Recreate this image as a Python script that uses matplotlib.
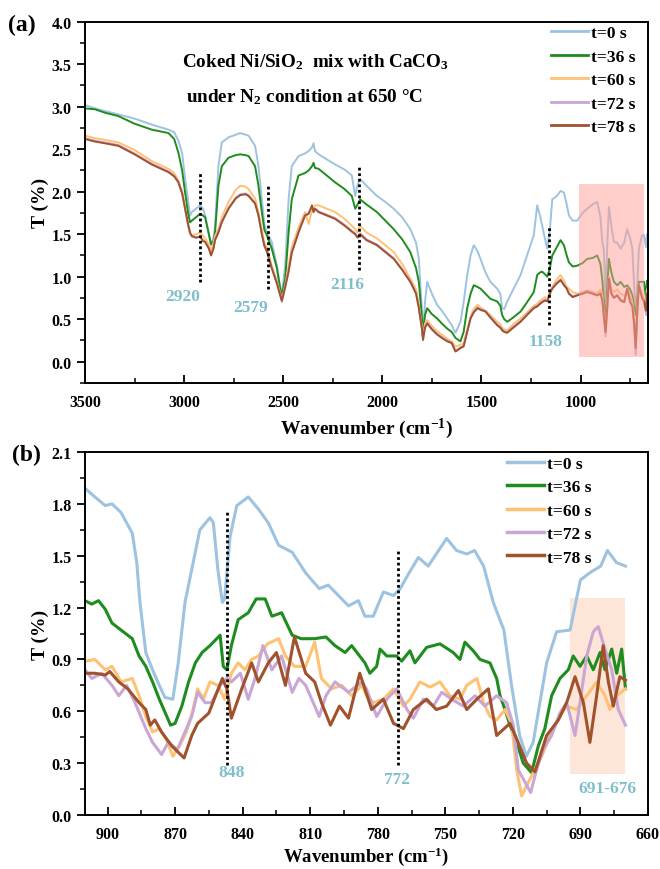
import matplotlib
matplotlib.use("Agg")
import matplotlib.pyplot as plt
from matplotlib.ticker import MultipleLocator, FormatStrFormatter
from matplotlib.patches import Rectangle

plt.rcParams['font.family'] = ['Liberation Serif', 'DejaVu Serif']
plt.rcParams['font.weight'] = 'bold'
plt.rcParams['mathtext.fontset'] = 'custom'
plt.rcParams['mathtext.rm'] = 'Liberation Serif:bold'
plt.rcParams['mathtext.it'] = 'Liberation Serif:bold:italic'
plt.rcParams['mathtext.bf'] = 'Liberation Serif:bold'

labels = ["t=0 s", "t=36 s", "t=60 s", "t=72 s", "t=78 s"]
colors = ["#9DC3E0", "#1E8C1E", "#FFC173", "#C9A6D6", "#A0522D"]

# ---------------- panel (a) data ----------------
wn_a = [3500, 3450, 3400, 3332, 3250, 3163, 3079, 3050, 3029, 3010, 2995, 2980, 2970, 2961, 2940,
        2919, 2905, 2894, 2875, 2864, 2852, 2844, 2827, 2810, 2776, 2740, 2717, 2690, 2675, 2642,
        2625, 2608, 2595, 2583, 2558, 2532, 2515, 2507, 2490, 2473, 2457, 2423, 2390, 2372, 2355,
        2347, 2340, 2322, 2280, 2238, 2190, 2154, 2137, 2125, 2112, 2080, 2027, 1985, 1943, 1900,
        1859, 1830, 1816, 1800, 1795, 1785, 1774, 1750, 1724, 1700, 1673, 1650, 1631, 1606, 1590,
        1572, 1555, 1539, 1520, 1505, 1480, 1455, 1421, 1405, 1396, 1385, 1370, 1340, 1303, 1270,
        1236, 1219, 1205, 1194, 1180, 1168, 1155, 1143, 1120, 1101, 1084, 1070, 1059, 1040, 1017,
        990, 967, 940, 916, 900, 890, 883, 874, 865, 857, 845, 832, 815, 798, 780,
        765, 750, 739, 730, 722, 715, 706, 690, 680, 670, 665]

t0_a = [3.02, 2.98, 2.95, 2.91, 2.86, 2.79, 2.73, 2.70, 2.60, 2.45, 2.15, 1.90, 1.72, 1.76, 1.80,
        1.84, 1.80, 1.72, 1.50, 1.38, 1.45, 1.60, 2.30, 2.58, 2.64, 2.67, 2.69, 2.67, 2.66, 2.54,
        2.30, 1.91, 1.62, 1.52, 1.41, 1.13, 0.88, 0.80, 1.13, 1.91, 2.30, 2.42, 2.45, 2.48, 2.52,
        2.57, 2.48, 2.44, 2.38, 2.32, 2.26, 2.19, 1.95, 2.08, 2.15, 2.07, 1.95, 1.88, 1.80, 1.70,
        1.56, 1.40, 1.21, 0.60, 0.32, 0.70, 0.94, 0.80, 0.67, 0.60, 0.51, 0.43, 0.34, 0.47, 0.70,
        1.02, 1.25, 1.37, 1.30, 1.21, 1.05, 0.94, 0.86, 0.80, 0.63, 0.62, 0.71, 0.85, 1.02, 1.25,
        1.49, 1.84, 1.72, 1.60, 1.45, 1.33, 1.55, 1.91, 1.95, 2.01, 1.99, 1.85, 1.72, 1.66, 1.66,
        1.75, 1.80, 1.85, 1.88, 1.70, 1.40, 1.33, 0.71, 1.40, 1.82, 1.60, 1.41, 1.40, 1.33, 1.40,
        1.56, 1.45, 1.33, 0.90, 0.55, 0.85, 1.33, 1.49, 1.49, 1.35, 1.50]

t36_a = [2.98, 2.97, 2.93, 2.89, 2.80, 2.73, 2.69, 2.62, 2.46, 2.25, 1.99, 1.75, 1.64, 1.66, 1.70,
         1.74, 1.72, 1.70, 1.50, 1.38, 1.42, 1.52, 2.07, 2.30, 2.40, 2.43, 2.44, 2.43, 2.42, 2.30,
         2.07, 1.76, 1.55, 1.49, 1.33, 1.10, 0.85, 0.78, 0.98, 1.52, 1.91, 2.19, 2.22, 2.25, 2.30,
         2.34, 2.28, 2.27, 2.19, 2.11, 2.03, 1.95, 1.80, 1.85, 1.91, 1.85, 1.76, 1.66, 1.56, 1.44,
         1.29, 1.10, 0.94, 0.50, 0.32, 0.55, 0.63, 0.56, 0.51, 0.45, 0.39, 0.35, 0.28, 0.24, 0.35,
         0.63, 0.80, 0.90, 0.88, 0.86, 0.80, 0.74, 0.71, 0.66, 0.55, 0.50, 0.47, 0.52, 0.59, 0.70,
         0.82, 1.02, 1.05, 1.06, 1.03, 1.00, 1.10, 1.25, 1.35, 1.43, 1.37, 1.25, 1.17, 1.12, 1.13,
         1.16, 1.21, 1.22, 1.25, 1.15, 0.95, 0.74, 0.47, 0.90, 1.21, 1.05, 0.94, 0.90, 0.94, 0.88,
         0.90, 0.85, 0.78, 0.65, 0.55, 0.70, 0.94, 0.94, 0.94, 0.75, 0.95]

t60_a = [2.66, 2.63, 2.61, 2.58, 2.49, 2.36, 2.27, 2.22, 2.13, 2.00, 1.80, 1.60, 1.50, 1.48, 1.50,
         1.52, 1.48, 1.45, 1.38, 1.31, 1.40, 1.48, 1.56, 1.70, 1.88, 2.02, 2.07, 2.06, 2.03, 1.92,
         1.76, 1.55, 1.40, 1.35, 1.13, 0.95, 0.80, 0.74, 0.90, 1.13, 1.35, 1.58, 1.76, 1.62, 1.78,
         1.80, 1.84, 1.84, 1.80, 1.76, 1.68, 1.60, 1.56, 1.52, 1.60, 1.52, 1.45, 1.37, 1.29, 1.15,
         0.98, 0.85, 0.67, 0.40, 0.28, 0.45, 0.49, 0.42, 0.36, 0.32, 0.27, 0.24, 0.18, 0.20, 0.22,
         0.38, 0.53, 0.62, 0.67, 0.64, 0.60, 0.55, 0.47, 0.44, 0.40, 0.38, 0.37, 0.44, 0.51, 0.58,
         0.66, 0.68, 0.72, 0.73, 0.76, 0.74, 0.82, 0.88, 0.97, 1.02, 0.95, 0.88, 0.86, 0.82, 0.80,
         0.82, 0.84, 0.82, 0.80, 0.85, 0.78, 0.60, 0.35, 0.70, 1.00, 0.85, 0.82, 0.85, 0.80, 0.78,
         0.82, 0.80, 0.70, 0.55, 0.20, 0.60, 0.88, 0.80, 0.75, 0.72, 0.85]

t72_a = [2.63, 2.60, 2.58, 2.55, 2.45, 2.33, 2.24, 2.19, 2.12, 1.99, 1.80, 1.61, 1.51, 1.47, 1.46,
         1.47, 1.43, 1.41, 1.34, 1.26, 1.34, 1.44, 1.53, 1.65, 1.81, 1.93, 1.97, 1.98, 1.96, 1.87,
         1.73, 1.51, 1.37, 1.31, 1.11, 0.93, 0.77, 0.70, 0.88, 1.07, 1.29, 1.53, 1.73, 1.75, 1.82,
         1.77, 1.80, 1.77, 1.73, 1.69, 1.61, 1.54, 1.51, 1.47, 1.51, 1.44, 1.38, 1.30, 1.22, 1.09,
         0.95, 0.81, 0.64, 0.38, 0.25, 0.41, 0.46, 0.39, 0.33, 0.29, 0.25, 0.22, 0.13, 0.17, 0.19,
         0.36, 0.52, 0.59, 0.64, 0.62, 0.60, 0.53, 0.44, 0.41, 0.38, 0.36, 0.35, 0.41, 0.48, 0.56,
         0.64, 0.66, 0.69, 0.71, 0.73, 0.72, 0.81, 0.87, 0.93, 0.97, 0.91, 0.87, 0.81, 0.77, 0.79,
         0.81, 0.83, 0.81, 0.79, 0.81, 0.73, 0.52, 0.30, 0.66, 0.99, 0.81, 0.76, 0.79, 0.73, 0.71,
         0.87, 0.71, 0.66, 0.43, 0.08, 0.52, 0.91, 0.76, 0.72, 0.55, 0.78]

t78_a = [2.62, 2.59, 2.57, 2.54, 2.44, 2.32, 2.23, 2.18, 2.11, 1.98, 1.80, 1.62, 1.52, 1.48, 1.46,
         1.47, 1.42, 1.41, 1.33, 1.25, 1.33, 1.43, 1.52, 1.64, 1.80, 1.92, 1.96, 1.97, 1.95, 1.86,
         1.72, 1.50, 1.36, 1.30, 1.10, 0.92, 0.78, 0.72, 0.88, 1.06, 1.28, 1.52, 1.72, 1.74, 1.84,
         1.76, 1.80, 1.76, 1.72, 1.68, 1.60, 1.53, 1.50, 1.46, 1.50, 1.43, 1.37, 1.29, 1.21, 1.08,
         0.94, 0.80, 0.63, 0.38, 0.26, 0.40, 0.45, 0.38, 0.32, 0.28, 0.24, 0.22, 0.12, 0.16, 0.18,
         0.35, 0.51, 0.58, 0.63, 0.61, 0.59, 0.52, 0.43, 0.40, 0.37, 0.35, 0.34, 0.40, 0.47, 0.55,
         0.63, 0.65, 0.68, 0.70, 0.72, 0.71, 0.80, 0.86, 0.92, 0.96, 0.90, 0.86, 0.80, 0.76, 0.78,
         0.80, 0.82, 0.80, 0.78, 0.80, 0.72, 0.55, 0.35, 0.65, 0.98, 0.80, 0.75, 0.78, 0.72, 0.70,
         0.86, 0.70, 0.65, 0.45, 0.16, 0.55, 0.90, 0.75, 0.71, 0.60, 0.80]

# ---------------- panel (b) data ----------------
wn_b0 = [910, 905.6, 901, 898, 894, 889, 887, 885.6, 883, 880, 877, 874.5, 871, 868.6, 865.6, 862.6,
         859, 854.5, 853, 851, 849, 848, 845.6, 842.6, 837.5, 833, 828.6, 824, 818, 812, 806, 802,
         797.5, 793, 788.6, 785.7, 782, 777.5, 773, 770, 767, 762, 757.6, 749.4, 745, 740.5, 737,
         733, 728.7, 724, 720.6, 717, 714, 711, 708, 705, 700.6, 694.6, 690, 686, 681, 678, 674, 670]
t0_b = [1.89, 1.84, 1.79, 1.80, 1.75, 1.63, 1.46, 1.23, 0.94, 0.84, 0.75, 0.68, 0.67, 0.88, 1.23, 1.42,
        1.65, 1.72, 1.69, 1.42, 1.23, 1.25, 1.61, 1.79, 1.84, 1.77, 1.69, 1.56, 1.52, 1.40, 1.31, 1.33,
        1.27, 1.21, 1.24, 1.15, 1.15, 1.29, 1.27, 1.31, 1.38, 1.49, 1.44, 1.60, 1.53, 1.51, 1.53,
        1.44, 1.23, 1.07, 0.75, 0.46, 0.34, 0.42, 0.65, 0.88, 1.06, 1.07, 1.36, 1.40, 1.44, 1.53, 1.46, 1.44]

wn_b36 = [910, 907, 904, 901, 898, 894, 889, 886, 883, 880, 877, 875, 872, 870, 867, 864, 861, 858,
          854.5, 850, 848.6, 847, 845, 842, 837.5, 834, 830, 827, 822.7, 818, 814, 808, 803, 799,
          794.5, 791.6, 785.7, 783.5, 780.5, 779, 776, 771.6, 769.4, 765.7, 763.5, 758.3, 752.4,
          746.5, 743.5, 741.3, 737.6, 734.6, 730.2, 727.2, 725.7, 723.5, 721.3, 718.3, 715.4, 711.7,
          708.7, 705.8, 702.8, 699.1, 695.4, 693.2, 690.2, 687.2, 684.3, 681.3, 679.1, 676.1, 673.9,
          671.7, 670]
t36_b = [1.24, 1.22, 1.24, 1.19, 1.11, 1.07, 1.02, 0.92, 0.86, 0.77, 0.67, 0.61, 0.52, 0.53, 0.63,
         0.77, 0.88, 0.94, 0.98, 1.04, 0.86, 0.84, 0.98, 1.13, 1.17, 1.25, 1.25, 1.15, 1.17, 1.04,
         1.02, 1.02, 1.03, 0.98, 0.94, 0.98, 0.88, 0.82, 0.86, 0.96, 0.92, 0.92, 0.89, 0.95, 0.88,
         0.97, 0.99, 0.94, 0.90, 1.00, 0.95, 0.90, 0.88, 0.79, 0.69, 0.61, 0.52, 0.42, 0.30, 0.245,
         0.40, 0.50, 0.69, 0.79, 0.84, 0.92, 0.86, 0.92, 0.84, 0.94, 0.84, 0.96, 0.82, 0.96, 0.73]

wn_b60 = [910, 905.6, 901, 898, 894, 889, 886, 883, 880, 877, 874, 871, 868, 865, 862, 860, 857.5,
          854.5, 851, 848, 845, 842, 839, 836, 833, 829, 824, 821, 817, 812, 808, 805, 800.5, 796,
          791.6, 787, 785, 782, 777.5, 773, 768.6, 765.7, 761.3, 756.8, 752.4, 748, 743.5, 740.5,
          736, 733, 730.2, 727.2, 723.5, 720.6, 718.3, 716.1, 713.9, 710.9, 707.2, 703.5, 699.1,
          696.1, 691.7, 687.2, 682.8, 679.1, 676.9, 673.9, 670]
t60_b = [0.89, 0.90, 0.84, 0.86, 0.77, 0.79, 0.69, 0.57, 0.48, 0.50, 0.44, 0.34, 0.40, 0.48, 0.61,
         0.73, 0.67, 0.77, 0.75, 0.67, 0.82, 0.88, 0.84, 0.90, 0.92, 0.99, 1.02, 0.92, 0.86, 0.86,
         1.00, 0.79, 0.73, 0.75, 0.69, 0.75, 0.69, 0.65, 0.67, 0.73, 0.63, 0.67, 0.77, 0.74, 0.77,
         0.69, 0.67, 0.75, 0.79, 0.65, 0.57, 0.55, 0.61, 0.53, 0.26, 0.11, 0.17, 0.245, 0.34, 0.46,
         0.57, 0.63, 0.61, 0.69, 0.77, 0.69, 0.61, 0.69, 0.73]

wn_b72 = [910, 907, 902.6, 898, 895, 891.5, 887.8, 883, 880, 876, 873, 869, 865.6, 862.6, 860,
          856.7, 853.8, 850, 847, 845, 841, 837.5, 834.5, 831, 827, 822.7, 818, 815, 812, 806, 803,
          799, 793, 787, 785, 780.5, 776, 771.6, 767, 764.2, 759.8, 755.3, 751.6, 747.2, 742,
          736.8, 732.4, 727.2, 722.8, 719.8, 717.6, 714.6, 712.1, 709.5, 706.5, 702.8, 699.1, 696.1,
          692.4, 690.2, 687.2, 684.3, 682.1, 679.1, 676.1, 673.2, 670]
t72_b = [0.84, 0.79, 0.82, 0.75, 0.69, 0.75, 0.65, 0.50, 0.42, 0.35, 0.42, 0.38, 0.48, 0.57, 0.71,
         0.65, 0.65, 0.75, 0.79, 0.77, 0.82, 0.67, 0.79, 0.98, 0.84, 0.92, 0.71, 0.79, 0.75, 0.57,
         0.69, 0.77, 0.71, 0.77, 0.73, 0.57, 0.67, 0.73, 0.61, 0.56, 0.67, 0.63, 0.71, 0.67, 0.63,
         0.69, 0.63, 0.69, 0.65, 0.52, 0.26, 0.19, 0.13, 0.26, 0.38, 0.46, 0.59, 0.65, 0.46, 0.65,
         0.92, 1.06, 1.09, 0.96, 0.84, 0.61, 0.52]

wn_b78 = [910, 905.6, 901, 899, 895, 891, 886, 883, 881, 879, 876, 871.5, 866, 862.6, 860, 855,
          849, 847, 845, 840.4, 836, 833, 828.6, 825, 821, 817, 812, 808, 805, 801, 797, 793, 788,
          782.7, 777.5, 773, 768.6, 764.2, 758.3, 754, 749.4, 744.2, 740.5, 736, 730.9, 727.2,
          721.3, 718.3, 713.9, 710.2, 705, 699.8, 696.1, 692.4, 688.7, 685.8, 682.8, 679.9, 677.6,
          675.4, 672.5, 670]
t78_b = [0.82, 0.82, 0.81, 0.83, 0.77, 0.73, 0.65, 0.61, 0.52, 0.55, 0.48, 0.40, 0.33, 0.46, 0.53,
         0.59, 0.79, 0.73, 0.56, 0.73, 0.88, 0.77, 0.88, 0.94, 0.75, 1.03, 0.82, 0.77, 0.65, 0.52,
         0.63, 0.56, 0.82, 0.61, 0.67, 0.53, 0.50, 0.61, 0.67, 0.61, 0.63, 0.72, 0.61, 0.67, 0.73,
         0.46, 0.53, 0.44, 0.30, 0.25, 0.46, 0.55, 0.65, 0.80, 0.65, 0.42, 0.69, 0.98, 0.77, 0.63,
         0.80, 0.78]

series_a = [t0_a, t36_a, t60_a, t72_a, t78_a]
xs_b = [wn_b0, wn_b36, wn_b60, wn_b72, wn_b78]
series_b = [t0_b, t36_b, t60_b, t72_b, t78_b]

ann_color = "#7FBFCB"

fig = plt.figure(figsize=(6.6, 8.7), dpi=100)
ax1 = fig.add_axes([85 / 660, 1 - 384 / 870, 563 / 660, 361.3 / 870])
ax2 = fig.add_axes([85 / 660, 1 - 816 / 870, 563 / 660, 363 / 870])


def style_axes(ax):
    for s in ax.spines.values():
        s.set_linewidth(1.4)
    ax.tick_params(axis='y', which='major', direction='out', length=6, width=1.3, labelsize=11.5, right=False)
    ax.tick_params(axis='y', which='minor', direction='out', length=3.5, width=1.1, right=False)
    ax.tick_params(axis='x', which='major', direction='in', length=6, width=1.3, labelsize=11.5, pad=8, top=False)
    ax.tick_params(axis='x', which='minor', direction='in', length=3.5, width=1.1, top=False)
    for lab in ax.get_xticklabels() + ax.get_yticklabels():
        lab.set_fontweight('bold')


def add_legend(ax, x0, y0):
    leg = ax.legend(loc='upper left', bbox_to_anchor=(x0, y0), frameon=False, fontsize=12.5,
                    handlelength=2.1, handletextpad=0.2, labelspacing=0.42, borderpad=0, borderaxespad=0)
    for t in leg.get_texts():
        t.set_fontweight('bold')
    return leg


# ---------- panel (a) ----------
for y, c, lab in zip(series_a, colors, labels):
    ax1.plot(wn_a, y, color=c, lw=1.4, label=lab)
ax1.add_patch(Rectangle((1010, 0.05), 680 - 1010, 2.04, facecolor="#FF9E96", alpha=0.5,
                        edgecolor='none', zorder=5))
ax1.set_xlim(3500, 660)
ax1.set_ylim(-0.25, 4.0)
ax1.xaxis.set_major_locator(MultipleLocator(500))
ax1.xaxis.set_minor_locator(MultipleLocator(250))
ax1.yaxis.set_major_locator(MultipleLocator(0.5))
ax1.yaxis.set_minor_locator(MultipleLocator(0.25))
ax1.yaxis.set_major_formatter(FormatStrFormatter('%.1f'))
style_axes(ax1)
ax1.set_xlabel(r"Wavenumber (cm$^{-1}$)", fontsize=14, fontweight='bold', labelpad=4)
ax1.set_ylabel("T (%)", fontsize=14, fontweight='bold', labelpad=2)

for x, y0, y1 in [(2920, 0.94, 2.24), (2579, 0.86, 2.09), (2116, 1.08, 2.31), (1158, 0.43, 1.60)]:
    ax1.plot([x, x], [y0, y1], color='black', lw=2, linestyle=(0, (1, 1)), zorder=6)
for txt, x, y in [("2920", 3005, 0.77), ("2579", 2667, 0.64), ("2116", 2177, 0.92), ("1158", 1177, 0.24)]:
    ax1.text(x, y, txt, color=ann_color, fontsize=12.5, fontweight='bold', ha='center', va='center')

ax1.text(0.172, 0.891, r"Coked Ni/SiO$_2$  mix with CaCO$_3$", transform=ax1.transAxes,
         fontsize=13.8, fontweight='bold', ha='left', va='center')
ax1.text(0.18, 0.794, r"under N$_2$ condition at 650 °C", transform=ax1.transAxes,
         fontsize=13.8, fontweight='bold', ha='left', va='center')

leg1 = add_legend(ax1, 0.828, 0.99)
for l in leg1.get_lines():
    l.set_linewidth(2)

fig.text(8 / 660, 1 - 25 / 870, "(a)", fontsize=17, fontweight='bold', ha='left', va='center')

# ---------- panel (b) ----------
ax2.add_patch(Rectangle((694.7, 0.236), 670 - 694.7, 1.018, facecolor="#FDE6D8", edgecolor='none', zorder=0))
for x, y, c, lab in zip(xs_b, series_b, colors, labels):
    ax2.plot(x, y, color=c, lw=2.2, label=lab)
ax2.set_xlim(910, 660)
ax2.set_ylim(0, 2.1)
ax2.xaxis.set_major_locator(MultipleLocator(30))
ax2.xaxis.set_minor_locator(MultipleLocator(15))
ax2.yaxis.set_major_locator(MultipleLocator(0.3))
ax2.yaxis.set_minor_locator(MultipleLocator(0.15))
ax2.yaxis.set_major_formatter(FormatStrFormatter('%.1f'))
style_axes(ax2)
ax2.set_xlabel(r"Wavenumber (cm$^{-1}$)", fontsize=13.5, fontweight='bold', labelpad=2)
ax2.set_ylabel("T (%)", fontsize=14, fontweight='bold', labelpad=2)

for x, y0, y1 in [(847, 0.29, 1.76), (771, 0.29, 1.54)]:
    ax2.plot([x, x], [y0, y1], color='black', lw=2, linestyle=(0, (1, 1)), zorder=6)
for txt, x, y in [("848", 844.7, 0.25), ("772", 771.5, 0.21), ("691-676", 678, 0.155)]:
    ax2.text(x, y, txt, color=ann_color, fontsize=12.5, fontweight='bold', ha='center', va='center')

leg2 = add_legend(ax2, 0.75, 0.99)
for l in leg2.get_lines():
    l.set_linewidth(2.5)

fig.text(12 / 660, 1 - 455 / 870, "(b)", fontsize=17, fontweight='bold', ha='left', va='center')

fig.savefig("out.png", dpi=100)
